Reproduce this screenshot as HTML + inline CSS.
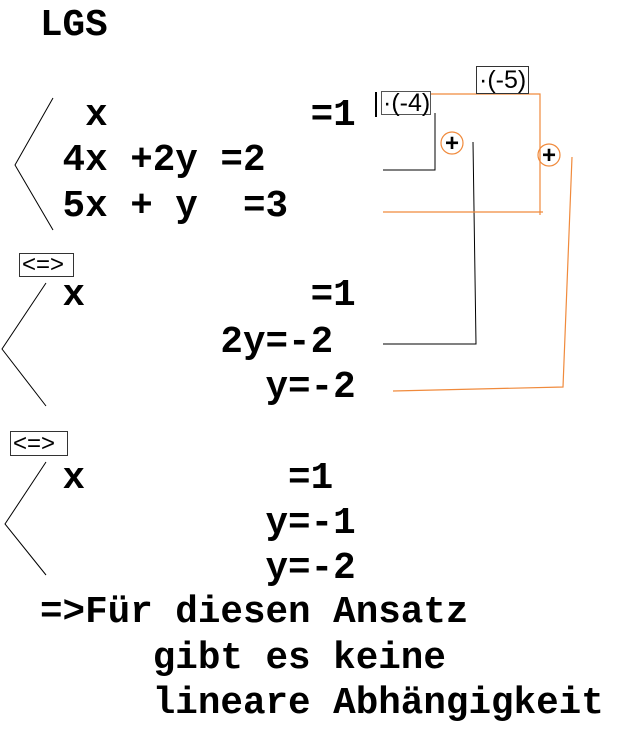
<!DOCTYPE html>
<html><head><meta charset="utf-8"><style>
html,body{margin:0;padding:0;background:#fff;width:628px;height:736px;overflow:hidden}
.t{position:absolute;left:40px;font:bold 37.6px "Liberation Mono",monospace;white-space:pre;line-height:1;color:#000}
.b{position:absolute;font:25px "Liberation Sans",sans-serif;border:1px solid #333;padding:0 2px;background:#fff;white-space:pre}
svg{position:absolute;left:0;top:0}
</style></head><body>
<svg width="628" height="736">
<g stroke="#000" stroke-width="1" fill="none">
<polyline points="53,98 15,165 53,230"/>
<polyline points="46,283 2,349 46,406"/>
<polyline points="46,462 5,524 46,575"/>
<polyline points="383,170 435,170 435,113"/>
<polyline points="473,142 476,344 383,344"/>
<line x1="376" y1="92" x2="376" y2="117" stroke-width="2"/>
</g>
<g stroke="#f08a3c" stroke-width="1.2" fill="none">
<polyline points="422,94 540,94 540,215"/>
<line x1="383" y1="212" x2="543" y2="212"/>
<polyline points="572,157 563,387 393,391"/>
<circle cx="452" cy="143" r="11"/>
<circle cx="549" cy="155" r="11"/>
</g>
<text x="452" y="151" font-family="Liberation Sans" font-size="24" font-weight="bold" text-anchor="middle">+</text>
<text x="549" y="163" font-family="Liberation Sans" font-size="24" font-weight="bold" text-anchor="middle">+</text>
</svg>
<div class="b" style="left:381px;top:91px;height:22px;line-height:22px;padding:0 0 0 1px;border-color:#555">·(-4)</div>
<div class="b" style="left:476px;top:66px;height:26px;line-height:26px">·(-5)</div>
<div class="b" style="left:19px;top:253px;width:49px;height:22px;line-height:22px;font-size:24px">&lt;=&gt;</div>
<div class="b" style="left:10px;top:431px;width:52px;height:23px;line-height:23px;font-size:24px">&lt;=&gt;</div>
<div class="t" style="top:8px">LGS</div>
<div class="t" style="top:98px">  x         =1</div>
<div class="t" style="top:143px"> 4x +2y =2</div>
<div class="t" style="top:189px"> 5x + y  =3</div>
<div class="t" style="top:278px"> x          =1</div>
<div class="t" style="top:325px">        2y=-2</div>
<div class="t" style="top:370px">          y=-2</div>
<div class="t" style="top:461px"> x         =1</div>
<div class="t" style="top:506px">          y=-1</div>
<div class="t" style="top:551px">          y=-2</div>
<div class="t" style="top:595px">=&gt;Für diesen Ansatz</div>
<div class="t" style="top:641px">     gibt es keine</div>
<div class="t" style="top:686px">     lineare Abhängigkeit</div>
</body></html>
